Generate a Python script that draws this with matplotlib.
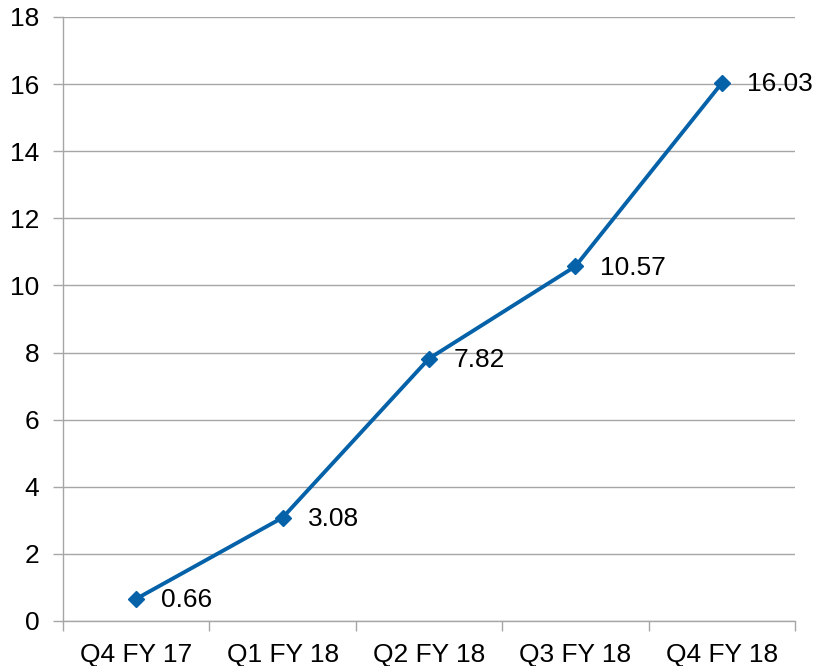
import matplotlib
matplotlib.use("Agg")
import matplotlib.pyplot as plt
import numpy as np

quarters = ["Q4 FY 17", "Q1 FY 18", "Q2 FY 18", "Q3 FY 18", "Q4 FY 18"]
values = [0.66, 3.08, 7.82, 10.57, 16.03]

plt.rcParams["font.family"] = ["Liberation Sans", "DejaVu Sans"]

line_color = "#0562A8"
grid_color = "#A6A6A6"

fig = plt.figure(figsize=(8.16, 6.66), dpi=100)
ax = fig.add_axes([0.0772, 0.0676, 0.8971, 0.9069])

x = np.arange(len(quarters))
ax.plot(x, values, color=line_color, linewidth=2.8, marker="D",
        markersize=8.5, markerfacecolor=line_color, markeredgecolor=line_color, zorder=3)

for xi, v in zip(x, values):
    ax.annotate(f"{v:.2f}", (xi, v), xytext=(18, -1), textcoords="offset points",
                ha="left", va="center", fontsize=19, color="black")

ax.set_xlim(-0.5, len(quarters) - 0.5)
ax.set_ylim(0, 18)
ax.set_yticks(np.arange(0, 19, 2))
ax.yaxis.grid(True, color=grid_color, linewidth=1)
ax.set_axisbelow(True)

ax.set_xticks(x)
ax.set_xticklabels(quarters)
ax.set_xticks(np.arange(-0.5, len(quarters), 1), minor=True)
ax.tick_params(axis="x", which="major", length=0, pad=16, labelsize=19)
ax.tick_params(axis="x", which="minor", length=7, color=grid_color, width=1)
ax.tick_params(axis="y", length=7, color=grid_color, width=1, labelsize=19, pad=10)

for side in ["top", "right"]:
    ax.spines[side].set_visible(False)
for side in ["left", "bottom"]:
    ax.spines[side].set_color(grid_color)
    ax.spines[side].set_linewidth(1)

fig.savefig("out.png", dpi=100)
